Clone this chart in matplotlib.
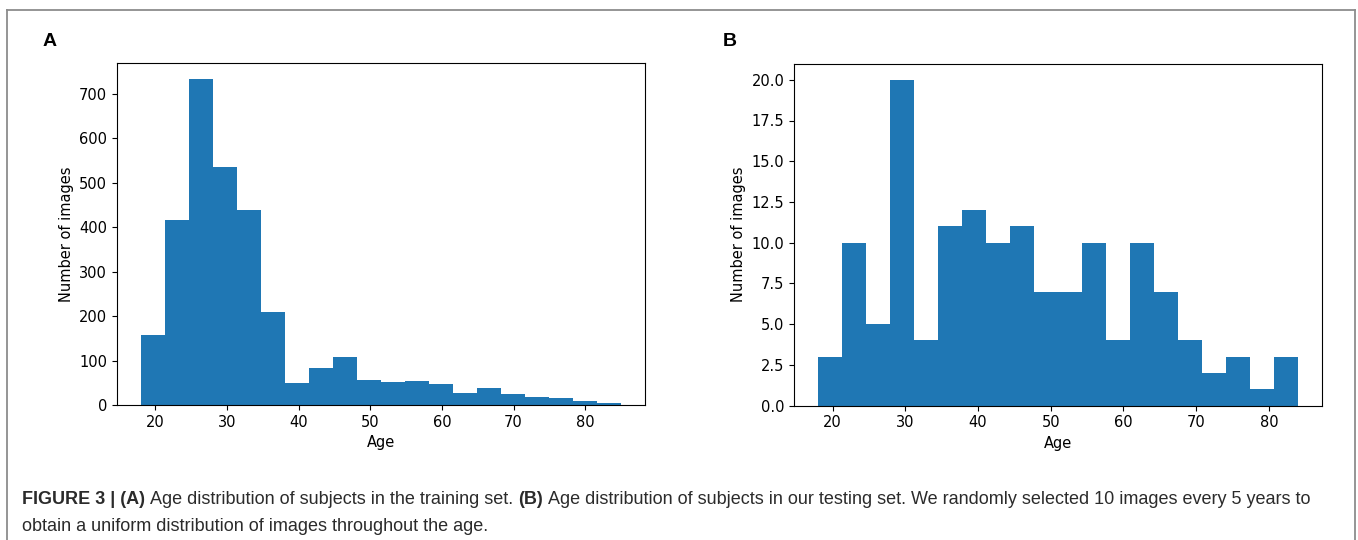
import numpy as np
import matplotlib
matplotlib.use('Agg')
import matplotlib.pyplot as plt
from matplotlib.lines import Line2D

plt.rcParams['font.family'] = ['DejaVu Sans']

# panel A: training set, 20 bins from 18 to 85
train_min, train_max = 18, 85
train_counts = [157, 416, 733, 536, 438, 210, 50, 83, 109, 57,
                52, 54, 47, 28, 38, 25, 19, 16, 10, 5]

# panel B: testing set, 20 bins from 18 to 84
test_min, test_max = 18, 84
test_counts = [3, 10, 5, 20, 4, 11, 12, 10, 11, 7,
               7, 10, 4, 10, 7, 4, 2, 3, 1, 3]

caption_line1 = [('FIGURE 3 | (A)', 'bold'),
                 ('Age distribution of subjects in the training set.', 'normal'),
                 ('(B)', 'bold'),
                 ('Age distribution of subjects in our testing set. We randomly selected 10 images every 5 years to', 'normal')]
caption_line2 = 'obtain a uniform distribution of images throughout the age.'

W, H = 1358, 540
fig = plt.figure(figsize=(W / 100, H / 100), dpi=100)

axA = fig.add_axes([117 / W, 1 - 405 / H, 528 / W, 342 / H])
axB = fig.add_axes([794 / W, 1 - 405.5 / H, 528 / W, 342 / H])


def draw_hist(ax, lo, hi, counts):
    edges = np.linspace(lo, hi, len(counts) + 1)
    centers = (edges[:-1] + edges[1:]) / 2
    ax.hist(centers, bins=edges, weights=counts, color='#1f77b4')
    ax.set_xlabel('Age', fontsize=10.5)
    ax.set_ylabel('Number of images', fontsize=10.5)
    ax.tick_params(labelsize=10.5)
    ax.set_xticks([20, 30, 40, 50, 60, 70, 80])


draw_hist(axA, train_min, train_max, train_counts)
draw_hist(axB, test_min, test_max, test_counts)
axB.yaxis.set_major_formatter(matplotlib.ticker.FormatStrFormatter('%.1f'))

# panel letters
fig.text(43 / W, 1 - 46 / H, 'A', fontsize=14, fontweight='bold', family='Liberation Sans')
fig.text(723 / W, 1 - 46 / H, 'B', fontsize=14, fontweight='bold', family='Liberation Sans')

# outer frame (open at the bottom, cropped)
fc = '#8c8c8c'
for xs, ys in [([7, 1355], [10, 10]), ([7, 7], [10, 545]), ([1355, 1355], [10, 545])]:
    fig.add_artist(Line2D([x / W for x in xs], [1 - y / H for y in ys],
                          color=fc, lw=1.3, transform=fig.transFigure))

# caption, mixed bold/normal runs
cap_size = 12.95
cap_color = '#2b2b2b'
renderer = fig.canvas.get_renderer()
probe1 = fig.text(0, 0, 'xx', fontsize=cap_size, family='Liberation Sans')
probe2 = fig.text(0, 0, 'x x', fontsize=cap_size, family='Liberation Sans')
gap = probe2.get_window_extent(renderer).width - probe1.get_window_extent(renderer).width
probe1.remove()
probe2.remove()

x = 22
for txt, weight in caption_line1:
    t = fig.text(x / W, 1 - 504 / H, txt, fontsize=cap_size, fontweight=weight,
                 family='Liberation Sans', color=cap_color)
    x = t.get_window_extent(renderer).x1 + gap
fig.text(22 / W, 1 - 531 / H, caption_line2, fontsize=cap_size,
         family='Liberation Sans', color=cap_color)

fig.savefig('out.png', dpi=100)
